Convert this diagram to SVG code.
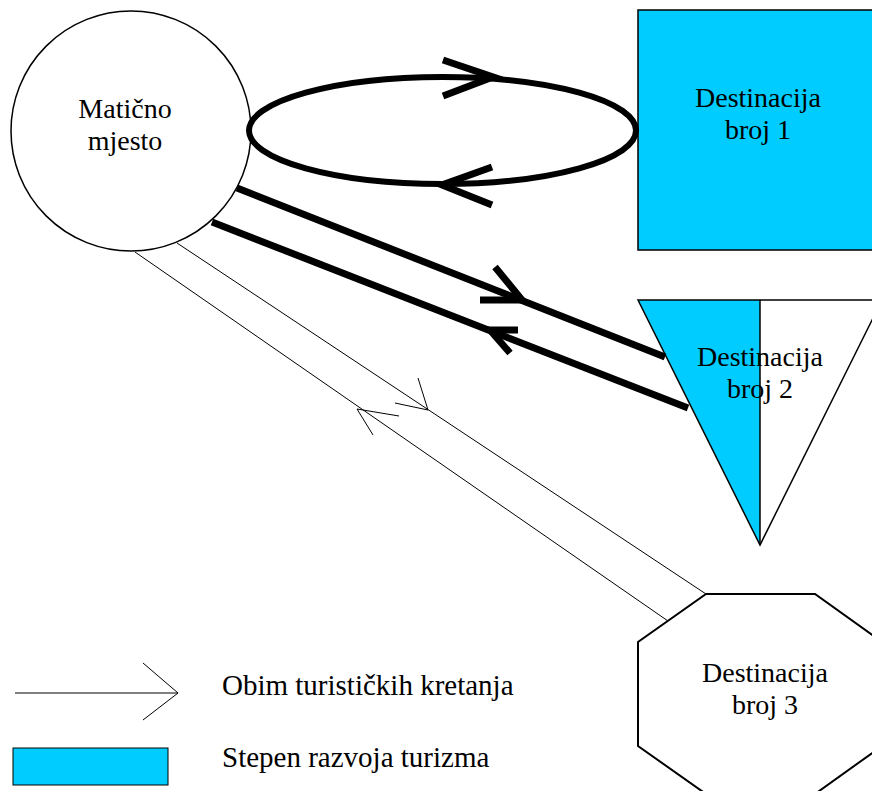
<svg xmlns="http://www.w3.org/2000/svg" width="872" height="791" viewBox="0 0 872 791">
<defs>
<style>
.lbl{font-family:"Liberation Serif","Times New Roman",serif;font-size:28px;fill:#000;text-anchor:middle}
.leg{font-family:"Liberation Serif","Times New Roman",serif;font-size:29px;fill:#000}
.thick{fill:none;stroke:#000;stroke-width:7}
.thin{fill:none;stroke:#000;stroke-width:1}
.cyan{fill:#00CCFF}
</style>
</defs>
<rect width="872" height="791" fill="#fff"/>
<g id="node-maticno">
<circle cx="131" cy="131" r="120" fill="#fff" stroke="#000" stroke-width="1.5"/>
<text class="lbl" x="125" y="118">Matično</text>
<text class="lbl" x="125" y="150">mjesto</text>
</g>
<g id="node-dest1">
<rect x="638" y="10" width="250" height="240" class="cyan" stroke="#000" stroke-width="1.5"/>
<text class="lbl" x="758" y="107">Destinacija</text>
<text class="lbl" x="758" y="139">broj 1</text>
</g>
<g id="node-dest2">
<polygon points="638,300 760,300 760,545" class="cyan"/>
<polygon points="760,300 882,300 760,545" fill="#fff"/>
<polygon points="638,300 882,300 760,545" fill="none" stroke="#000" stroke-width="1.5"/>
<line x1="760" y1="300" x2="760" y2="545" stroke="#000" stroke-width="1.5"/>
<text class="lbl" x="760" y="366">Destinacija</text>
<text class="lbl" x="760" y="398">broj 2</text>
</g>
<g id="node-dest3">
<polygon points="706,594 815,594 882,642 882,746 815,794 706,794 638,746 638,642" fill="#fff" stroke="#000" stroke-width="2"/>
<text class="lbl" x="765" y="682">Destinacija</text>
<text class="lbl" x="765" y="714">broj 3</text>
</g>
<g id="connectors">
<ellipse cx="442.5" cy="130.5" rx="193.5" ry="53.5" fill="none" stroke="#000" stroke-width="6"/>
<polyline class="thick" stroke-width="6" points="443,60 493,77 443,96"/>
<polyline class="thick" stroke-width="6" points="492,167 442,185 492,205"/>
<line class="thick" x1="237" y1="188" x2="665" y2="357"/>
<polyline class="thick" points="495,267 522,300 480,300"/>
<line class="thick" x1="212" y1="222" x2="688" y2="408"/>
<polyline class="thick" points="518,330 490,330 510,353"/>
<line class="thin" x1="177" y1="243" x2="706" y2="594"/>
<polyline class="thin" points="418,378 428,410 395,403"/>
<line class="thin" x1="135" y1="252" x2="668" y2="621"/>
<polyline class="thin" points="399,416 357,409 373,435"/>
</g>
<g id="legend">
<line class="thin" x1="15" y1="693" x2="178" y2="693"/>
<polyline class="thin" points="143,663 178,693 143,720"/>
<text class="leg" x="222" y="695">Obim turističkih kretanja</text>
<rect x="13" y="748" width="155" height="37" class="cyan" stroke="#000" stroke-width="1"/>
<text class="leg" x="222" y="767">Stepen razvoja turizma</text>
</g>
</svg>
